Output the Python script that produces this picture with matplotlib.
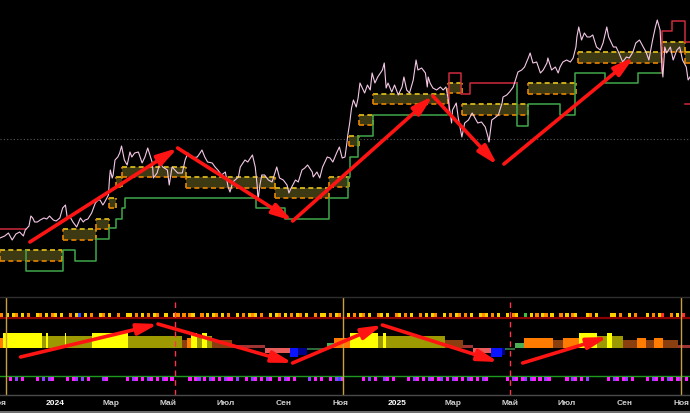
import matplotlib
matplotlib.use('Agg')
import matplotlib.pyplot as plt
import matplotlib.dates as mdates
import matplotlib.transforms as mtransforms
from matplotlib.patches import Rectangle
import numpy as np
import pandas as pd

start = pd.Timestamp('2023-11-03')
n_days = 738

# price, days counted from start
price_days = [0, 5, 9, 13, 17, 21, 25, 27, 29, 31,
              33, 35, 37, 40, 43, 47, 50, 53, 57, 60,
              64, 67, 70, 72, 75, 78, 82, 86, 89, 91,
              94, 98, 102, 105, 107, 110, 112, 116, 117, 118,
              120, 121, 123, 126, 128, 130, 133, 136, 139, 141,
              144, 148, 152, 155, 158, 163, 164, 168, 171, 174,
              179, 181, 184, 187, 190, 195, 198, 201, 205, 211,
              214, 216, 219, 222, 227, 230, 233, 237, 241, 244,
              246, 249, 255, 257, 262, 265, 270, 273, 275, 276,
              278, 280, 283, 287, 291, 296, 299, 303, 307, 309,
              312, 316, 319, 323, 326, 329, 334, 335, 339, 342,
              345, 350, 353, 356, 360, 363, 366, 369, 371, 372,
              374, 376, 378, 381, 383, 385, 387, 390, 393, 396,
              398, 401, 404, 409, 411, 413, 415, 419, 422, 426,
              430, 432, 435, 438, 442, 445, 447, 451, 455, 457,
              458, 460, 463, 467, 471, 474, 477, 479, 482, 483,
              484, 488, 490, 494, 497, 501, 505, 508, 511, 515,
              519, 522, 523, 526, 529, 533, 537, 538, 542, 545,
              549, 552, 554, 558, 561, 565, 567, 570, 574, 578,
              581, 585, 586, 590, 594, 597, 599, 602, 606, 610,
              613, 616, 617, 619, 622, 625, 628, 631, 634, 638,
              642, 645, 649, 651, 656, 659, 662, 666, 670, 673,
              677, 680, 684, 688, 691, 694, 698, 701, 703, 706,
              708, 709, 711, 713, 717, 720, 724, 727, 730, 734,
              736, 738]
price_vals = [62, 64, 67, 60, 66, 68, 64, 70, 72, 74,
              84, 82, 78, 78, 80, 82, 81, 84, 80, 79,
              82, 92, 95, 82, 83, 78, 73, 82, 78, 80,
              81, 87, 97, 100, 100, 95, 98, 105, 120, 130,
              122, 125, 140, 143, 147, 154, 140, 135, 148, 143,
              147, 148, 137, 143, 152, 137, 122, 127, 137, 133,
              130, 115, 133, 130, 127, 127, 140, 147, 142, 143,
              147, 150, 143, 138, 137, 133, 130, 125, 128, 113,
              108, 118, 123, 133, 140, 138, 145, 133, 115, 100,
              115, 125, 125, 120, 118, 133, 122, 120, 115, 107,
              113, 120, 118, 130, 132, 135, 128, 123, 128, 122,
              133, 143, 142, 138, 147, 153, 142, 143, 157, 165,
              177, 192, 200, 193, 202, 217, 213, 207, 215, 210,
              227, 217, 223, 230, 237, 212, 217, 208, 215, 205,
              213, 223, 210, 207, 220, 240, 230, 232, 227, 213,
              223, 217, 212, 210, 213, 210, 213, 203, 183, 177,
              190, 197, 183, 163, 177, 180, 187, 182, 177, 178,
              173, 163, 158, 180, 182, 185, 197, 203, 205, 208,
              213, 222, 228, 230, 233, 242, 247, 237, 238, 227,
              230, 237, 242, 230, 233, 227, 233, 238, 240, 238,
              242, 253, 263, 273, 260, 267, 263, 263, 265, 253,
              250, 257, 273, 263, 253, 253, 247, 238, 243, 242,
              248, 257, 260, 253, 248, 240, 260, 273, 280, 270,
              233, 223, 253, 247, 253, 240, 250, 253, 240, 233,
              220, 223]

# consolidation boxes
box_d0 = [0, 67, 103, 117, 124, 130, 199, 294, 352, 373, 384, 399, 479, 494, 565, 618, 708, 733]
box_d1 = [66, 103, 117, 124, 130, 199, 294, 352, 373, 384, 399, 479, 494, 565, 616, 708, 733, 740]
box_top = [50, 71, 81, 102, 123, 133, 123, 112, 123, 164, 185, 206, 217, 196, 217, 248, 258, 248]
box_bot = [39, 60, 71, 92, 113, 123, 112, 102, 113, 154, 175, 196, 207, 185, 206, 237, 248, 237]

# support (green) / resistance (red) steps
sup1_d = [28, 28, 67, 80, 103, 117, 124, 130, 134, 274, 305, 352, 372, 374, 383, 399, 478]
sup1_v = [50, 29, 50, 39, 61, 72, 81, 92, 102, 92, 81, 102, 123, 143, 164, 185, 185]
sup2_d = [553, 553, 565, 599, 615, 647, 682, 708]
sup2_v = [217, 174, 196, 185, 227, 217, 227, 227]
res1_d = [0, 28]
res1_v = [71, 71]
res2_d = [480, 480, 493, 503, 553]
res2_v = [185, 227, 206, 217, 217]
res3_d = [708, 708, 719, 733, 740]
res3_v = [227, 269, 279, 258, 258]
res4_d = [733, 740]
res4_v = [196, 196]
mid_level = 161

# hand-drawn arrows (start day, start value, end day, end value)
main_arrows = [(32, 58, 190, 152), (190, 152, 313, 79), (313, 79, 463, 204),
               (463, 204, 532, 135), (539, 136, 678, 243)]
low_arrows = [(22, -9, 169, 24), (169, 24, 313, -15), (313, -15, 409, 23),
              (409, 23, 533, -14), (559, -15, 650, 11)]

# lower panel histogram
bar_d0 = [0, 3, 45, 49, 51, 70, 71, 98, 137, 195, 200, 204, 211, 216, 221, 227, 248, 283,
          310, 319, 328, 350, 357, 374, 404, 410, 413, 476, 495, 506, 525, 537, 540, 551,
          560, 592, 602, 619, 638, 649, 655, 666, 681, 691, 700, 709, 725]
bar_d1 = [3, 45, 49, 51, 70, 71, 98, 137, 195, 200, 204, 211, 216, 221, 227, 248, 283, 310,
          319, 328, 350, 357, 374, 404, 410, 413, 476, 495, 506, 525, 537, 540, 551, 560,
          592, 602, 619, 638, 649, 655, 666, 681, 691, 700, 709, 725, 740]
bar_kind = ['or', 'ye', 'ol', 'ye', 'ol', 'ye', 'ol', 'ye', 'ol', 'br', 'or', 'ye', 'ol', 'ye',
            'ol', 'br', 'ma', 'sa', 'bl', 'db', 'dg', 'lg', 'or', 'ye', 'ol', 'ye', 'ol', 'br',
            'ma', 'sa', 'bl', 'db', 'dg', 'lg', 'or', 'br', 'or', 'ye', 'ol', 'ye', 'ol', 'br',
            'or', 'br', 'or', 'br', 'ma']
kind_height = {'ye': 15, 'ol': 12, 'or': 10, 'br': 8, 'lg': 5, 'ma': 3,
               'dg': -2, 'sa': -5, 'db': -7, 'bl': -9}
kind_color = {'ye': '#ffff00', 'ol': '#9c9a00', 'or': '#ff7c00', 'br': '#8a3f10',
              'lg': '#4cae55', 'ma': '#a03434', 'dg': '#2f6a3a', 'sa': '#e85c5c',
              'db': '#00008b', 'bl': '#0a14ff'}

# signal dots, one char per 3.2-day bin
top_dots = ("o.y.yo.y.o..yo.y.oy.y..o.yb.y.o..yo.y..o..yy.o.y.o.yo..y..yo.o.oy..o.y.yo.y.o"
            "..y.o.yoy.o..y.yo.y.o.yo.y..o.yy.o.yo..y.o.yo.y..oy.y..oy.o.y..o.y.yo..y.o.yo"
            ".o.y..yoy.o.y..y.oy..g.y.o.yo.y..o.y.oy...yo.y....yy.o..y.o...y.o.yr..o.y.r.")
bot_dots = ("...m.p.m....m.p.pm....m.mp.p.m....pm......m.pm.m.pm.m.pm.m.....m.mp.m.pm.m.pm"
            "m.p..m.pm.m.pm..m.pm.m....p.m.m..m.pbm......m.p.m..pm.m....m.pm.m.pm.mp.m.pm."
            "m.pm.m.pm......m.pm.mp.pm.m.pm.....m.pm.m.p......m.pm.mp.m....m.pm.m.pm.mp.m")
dot_color = {'y': '#ffd000', 'o': '#ff8a00', 'r': '#ff3030', 'b': '#3050ff', 'g': '#40c040',
             'm': '#ff20ff', 'p': '#9040ff'}
dot_bin = 3.2

tick_dates = ['2023-11-01', '2024-01-01', '2024-03-01', '2024-05-01', '2024-07-01',
              '2024-09-01', '2024-11-01', '2025-01-01', '2025-03-01', '2025-05-01',
              '2025-07-01', '2025-09-01', '2025-11-01']
tick_text = ['Ноя', '2024', 'Мар', 'Май', 'Июл', 'Сен', 'Ноя', '2025', 'Мар', 'Май',
             'Июл', 'Сен', 'Ноя']

x0 = mdates.date2num(start)


def X(d):
    return x0 + np.asarray(d, dtype=float)


H = 413
fig = plt.figure(figsize=(6.9, 4.13), dpi=100, facecolor='black')
ax = fig.add_axes([0, 117 / H, 1, 296 / H], facecolor='black')
axl = fig.add_axes([0, 18 / H, 1, 97 / H], facecolor='black')

for a in (ax, axl):
    a.set_xlim(X(0), X(n_days))
    a.set_xticks([])
    a.set_yticks([])
    for s in a.spines.values():
        s.set_visible(False)
ax.set_ylim(4, 300)
axl.set_ylim(-47, 50)

# main panel
ax.axhline(mid_level, color='#5a5a5a', ls=(0, (1, 2)), lw=0.8, zorder=1)
dash = (0, (3, 2))
for d0, d1, top, bot in zip(box_d0, box_d1, box_top, box_bot):
    ax.add_patch(Rectangle((X(d0), bot), d1 - d0, top - bot, facecolor='#3c3913',
                           edgecolor='none', zorder=1))
    ax.plot(X([d0, d1]), [top, top], color='#e8c41c', ls=dash, lw=1.2, zorder=2)
    ax.plot(X([d0, d1]), [bot, bot], color='#e88400', ls=dash, lw=1.2, zorder=2)
    ax.plot(X([d0, d0]), [bot, top], color='#e88400', ls=dash, lw=1.2, zorder=2)
    ax.plot(X([d1, d1]), [bot, top], color='#e8a000', ls=dash, lw=1.2, zorder=2)

for d, v in [(sup1_d, sup1_v), (sup2_d, sup2_v)]:
    ax.step(X(d), v, where='post', color='#3fa84c', lw=1.1, zorder=2)
for d, v in [(res1_d, res1_v), (res2_d, res2_v), (res3_d, res3_v), (res4_d, res4_v)]:
    ax.step(X(d), v, where='post', color='#cc2a3c', lw=1.1, zorder=2)

ax.plot(X(price_days), price_vals, color='#f4c8e6', lw=0.8, zorder=3)

arrow_kw = dict(arrowstyle='-|>,head_length=1.0,head_width=0.28', color='#ff1414',
                lw=2.6, shrinkA=0, shrinkB=0, mutation_scale=12)
for d0, v0, d1, v1 in main_arrows:
    ax.annotate('', xy=(X(d1), v1), xytext=(X(d0), v0), arrowprops=arrow_kw, zorder=6)

# lower panel
axl.bar(X(bar_d0), [kind_height[k] for k in bar_kind], width=np.subtract(bar_d1, bar_d0),
        align='edge', color=[kind_color[k] for k in bar_kind], linewidth=0, zorder=2)
axl.axhline(30, color='#8b0000', lw=1.6, zorder=1)
axl.axhline(-28, color='#1e9a1e', lw=1.0, zorder=1)
for row, yv in [(top_dots, 33), (bot_dots, -31)]:
    idx = [i for i, c in enumerate(row) if c != '.']
    axl.scatter(X([(i + 0.5) * dot_bin for i in idx]), [yv] * len(idx),
                c=[dot_color[row[i]] for i in idx], marker='s', s=5, linewidths=0, zorder=3)
for d in [187, 546]:
    axl.axvline(X(d), color='#ff3348', ls=(0, (4, 3)), lw=1.0, zorder=4)
for d in [6, 367, 728]:
    axl.axvline(X(d), color='#c9a23a', lw=1.0, zorder=4)
for d0, v0, d1, v1 in low_arrows:
    axl.annotate('', xy=(X(d1), v1), xytext=(X(d0), v0), arrowprops=arrow_kw, zorder=6)

# panel borders
fig.add_artist(plt.Line2D([0, 1], [116 / H, 116 / H], color='#2e2e2e', lw=1))
fig.add_artist(plt.Line2D([0, 1], [18 / H, 18 / H], color='#4a4a4a', lw=1))
fig.add_artist(Rectangle((0, 0), 1, 2.5 / H, transform=fig.transFigure,
                         facecolor='#6e6e6e', edgecolor='none'))

trans = mtransforms.blended_transform_factory(axl.transData, axl.transAxes)
for dt, lab in zip(tick_dates, tick_text):
    is_year = lab.isdigit()
    axl.text(mdates.date2num(pd.Timestamp(dt)), -0.085, lab, transform=trans,
             ha='center', va='center', fontsize=6, fontweight='bold',
             family=['Liberation Sans', 'DejaVu Sans'],
             color='#ffffff' if is_year else '#cfcfcf', clip_on=False)

fig.savefig('out.png', dpi=100, facecolor='black')
